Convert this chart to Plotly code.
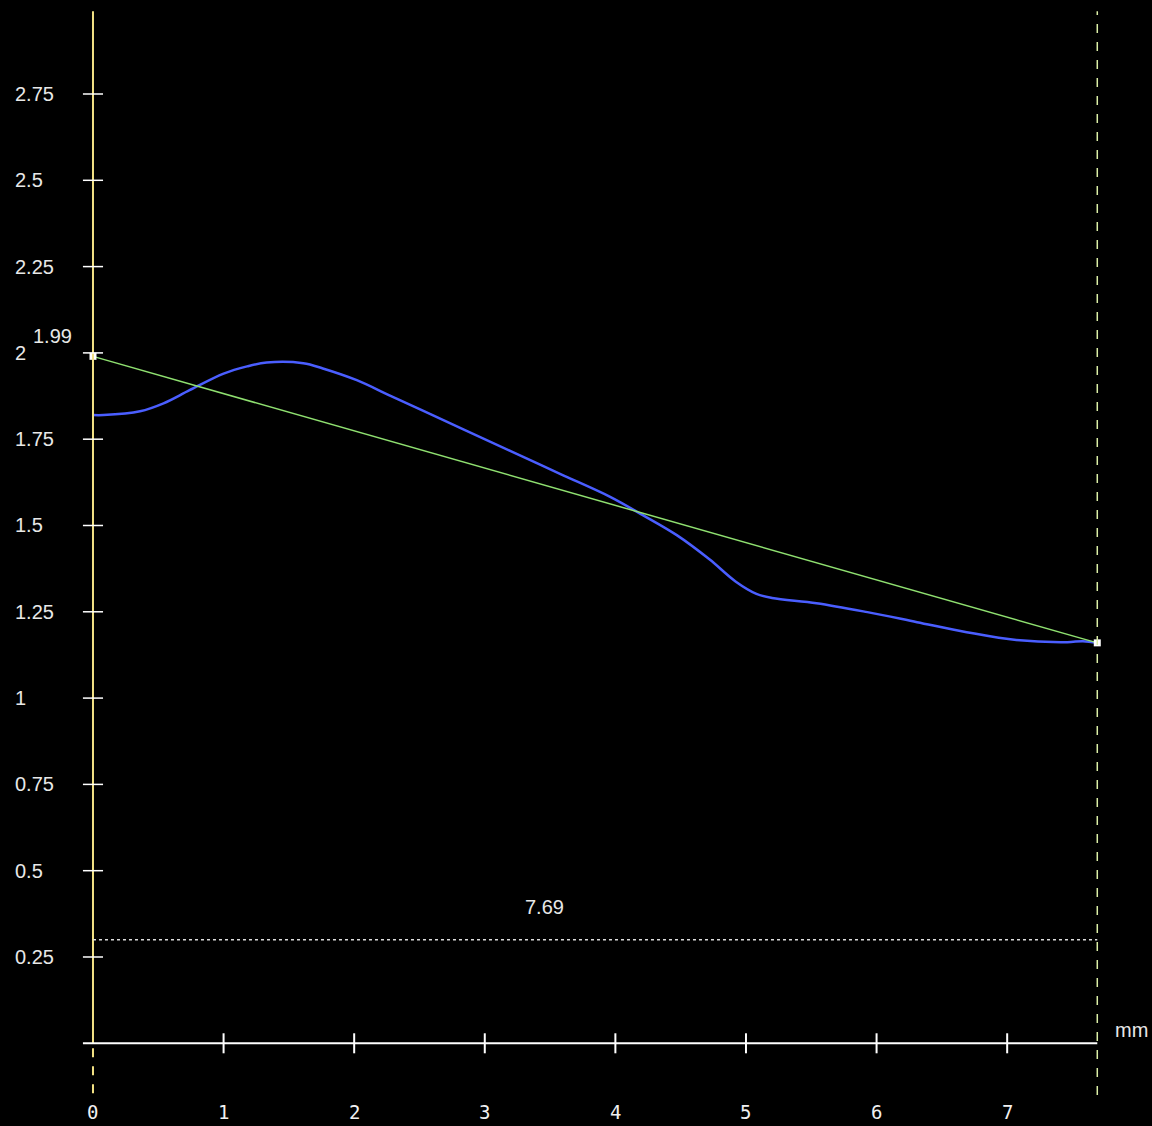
import plotly.graph_objects as go

# Thickness profile (mm along the section vs. thickness)
profile_x = [0, 0.08, 0.36, 0.54, 0.74, 1.0, 1.18, 1.33, 1.61, 1.76, 2.02, 2.27, 2.53,
             2.84, 3.19, 3.58, 3.96, 4.21, 4.47, 4.72, 4.92, 5.08, 5.2, 5.54, 5.93,
             6.31, 6.69, 7.07, 7.46, 7.58, 7.69]
profile_y = [1.82, 1.82, 1.831, 1.854, 1.892, 1.94, 1.961, 1.972, 1.97, 1.955, 1.921,
             1.877, 1.832, 1.778, 1.717, 1.649, 1.583, 1.53, 1.472, 1.402, 1.338, 1.302,
             1.29, 1.275, 1.249, 1.22, 1.191, 1.168, 1.162, 1.165, 1.16]

# Reference line between the two end points
ref_x = [0, 7.69]
ref_y = [1.99, 1.16]

length_mm = 7.69
baseline_y = 0.3

x_ticks = [0, 1, 2, 3, 4, 5, 6, 7]
y_ticks = [0.25, 0.5, 0.75, 1, 1.25, 1.5, 1.75, 2, 2.25, 2.5, 2.75]
y_tick_text = ["0.25", "0.5", "0.75", "1", "1.25", "1.5", "1.75", "2", "2.25", "2.5", "2.75"]

X_RANGE = [-0.712, 8.109]
Y_RANGE = [-0.2396, 3.0223]

label_font = dict(family="Liberation Sans Narrow, Liberation Sans, sans-serif",
                  size=20, color="#e8e8e8")
xtick_font = dict(family="DejaVu Sans Mono, monospace", size=19, color="#f0f0f0")

fig = go.Figure()

fig.add_trace(go.Scatter(x=profile_x, y=profile_y, mode="lines",
                         line=dict(color="#4a5eff", width=2.5, shape="spline", smoothing=1.0),
                         hoverinfo="skip", showlegend=False))
fig.add_trace(go.Scatter(x=ref_x, y=ref_y, mode="lines",
                         line=dict(color="#8fe070", width=1.5),
                         hoverinfo="skip", showlegend=False))
fig.add_trace(go.Scatter(x=ref_x, y=ref_y, mode="markers",
                         marker=dict(symbol="square", size=7, color="white"),
                         hoverinfo="skip", showlegend=False))

shapes = []
# vertical axis at x=0: solid above the baseline, dashed below
shapes.append(dict(type="line", x0=0, x1=0, y0=0, y1=2.99,
                   line=dict(color="#f2e184", width=2)))
shapes.append(dict(type="line", x0=0, x1=0, y0=-0.145, y1=0,
                   line=dict(color="#f2e184", width=2, dash="dash")))
# end marker at the measured length
shapes.append(dict(type="line", x0=length_mm, x1=length_mm, y0=-0.15, y1=2.99,
                   line=dict(color="#dcefa6", width=1.5, dash="dash")))
# horizontal axis
shapes.append(dict(type="line", x0=-0.077, x1=length_mm, y0=0, y1=0,
                   line=dict(color="white", width=2)))
for t in x_ticks[1:]:
    shapes.append(dict(type="line", x0=t, x1=t, y0=-0.029, y1=0.029,
                       line=dict(color="white", width=2)))
for t in y_ticks:
    shapes.append(dict(type="line", x0=-0.077, x1=0.077, y0=t, y1=t,
                       line=dict(color="white", width=1.5)))
# dotted length indicator
shapes.append(dict(type="line", x0=0, x1=length_mm, y0=baseline_y, y1=baseline_y,
                   line=dict(color="#dddddd", width=1.5, dash="dot")))

annotations = []
for t, txt in zip(y_ticks, y_tick_text):
    annotations.append(dict(x=-0.613, y=t, text=txt, showarrow=False,
                            xanchor="left", yanchor="middle", font=label_font))
for t in x_ticks:
    annotations.append(dict(x=t, y=-0.199, text=str(t), showarrow=False,
                            xanchor="center", yanchor="middle", font=xtick_font))
annotations.append(dict(x=7.81, y=0.038, text="mm", showarrow=False,
                        xanchor="left", yanchor="middle", font=label_font))
annotations.append(dict(x=-0.31, y=2.049, text=f"{ref_y[0]:.2f}", showarrow=False,
                        xanchor="center", yanchor="middle", font=label_font))
annotations.append(dict(x=3.46, y=0.395, text=f"{length_mm:.2f}", showarrow=False,
                        xanchor="center", yanchor="middle", font=label_font))

fig.update_layout(
    width=1152, height=1126,
    margin=dict(l=0, r=0, t=0, b=0),
    paper_bgcolor="black", plot_bgcolor="black",
    xaxis=dict(range=X_RANGE, visible=False, fixedrange=True),
    yaxis=dict(range=Y_RANGE, visible=False, fixedrange=True),
    shapes=shapes, annotations=annotations,
    showlegend=False,
)

fig.write_html("out.html")
